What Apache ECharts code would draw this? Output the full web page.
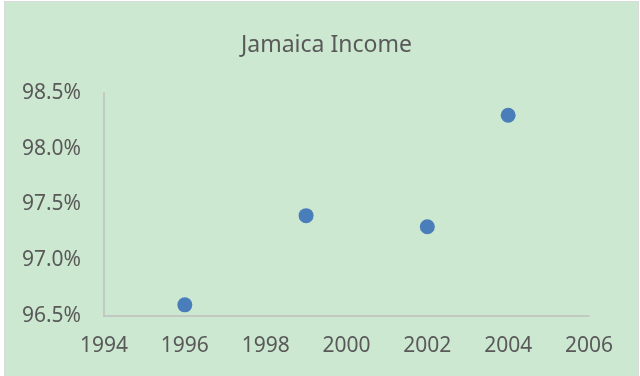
<!DOCTYPE html>
<html>
<head>
<meta charset="utf-8">
<script src="https://cdn.jsdelivr.net/npm/echarts@6/dist/echarts.min.js"></script>
<style>
  html, body { margin: 0; padding: 0; background: #ffffff; }
  #frame {
    position: absolute; left: 4px; top: 1px; width: 635px; height: 376px;
    background: #cde8d1; border: 1px solid #d9d9d9; box-sizing: border-box;
  }
  #chart { position: absolute; left: 0; top: 0; width: 640px; height: 376px; }
</style>
</head>
<body>
<div id="frame"></div>
<div id="chart"></div>
<script>
// Survey years and income share (%)
const years = [1996, 1999, 2002, 2004];
const income = [96.6, 97.4, 97.3, 98.3];

// Axis ranges
const xMin = 1994, xMax = 2006, xStep = 2;
const yMin = 96.5, yMax = 98.5, yStep = 0.5;

const textColor = '#595959';
const font = '"Noto Sans", sans-serif';

const chart = echarts.init(document.getElementById('chart'), null, { renderer: 'canvas' });
chart.setOption({
  backgroundColor: 'transparent',
  animation: false,
  title: {
    text: 'Jamaica Income',
    left: 236,
    top: 29,
    textStyle: { color: textColor, fontFamily: font, fontSize: 23, fontWeight: 'normal' }
  },
  grid: { left: 104, right: 51, top: 93, bottom: 60, containLabel: false },
  xAxis: {
    type: 'value',
    min: xMin, max: xMax, interval: xStep,
    axisLine: { show: true, lineStyle: { color: '#bfbfbf', width: 1.5 } },
    axisTick: { show: false },
    splitLine: { show: false },
    axisLabel: {
      color: textColor, fontFamily: font, fontSize: 21, margin: 20,
      formatter: v => String(v)
    }
  },
  yAxis: {
    type: 'value',
    min: yMin, max: yMax, interval: yStep,
    axisLine: { show: true, lineStyle: { color: '#bfbfbf', width: 1.5 } },
    axisTick: { show: false },
    splitLine: { show: false },
    axisLabel: {
      color: textColor, fontFamily: font, fontSize: 21, margin: 23,
      formatter: v => v.toFixed(1) + '%'
    }
  },
  series: [{
    type: 'scatter',
    data: years.map((y, i) => [y, income[i]]),
    symbol: 'circle',
    symbolSize: 15,
    itemStyle: { color: '#4a7ebb', opacity: 1 }
  }]
});
</script>
</body>
</html>
